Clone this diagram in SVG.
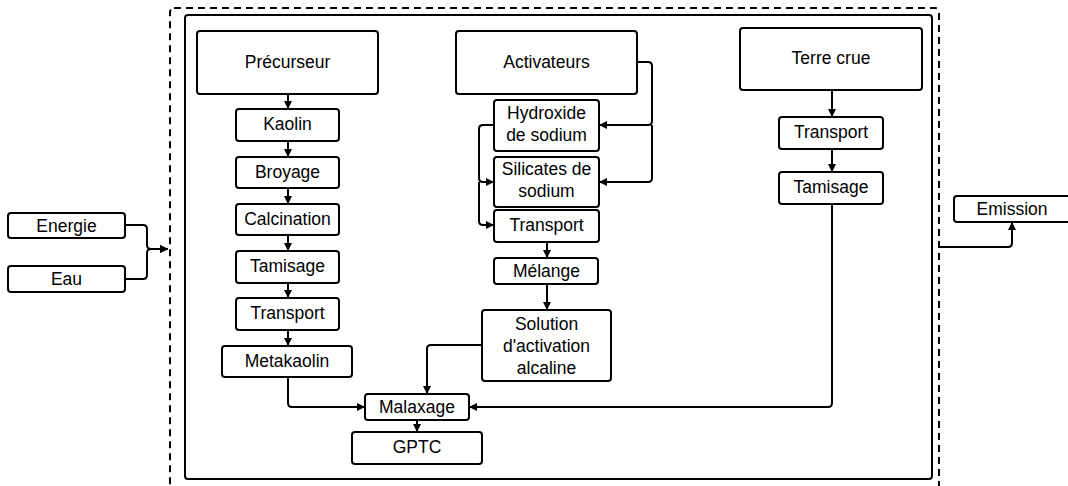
<svg xmlns="http://www.w3.org/2000/svg" width="1068" height="486" viewBox="0 0 1068 486">
<style>
.box{fill:#fff;stroke:#000;stroke-width:2}
.t{font-family:"Liberation Sans",Arial,sans-serif;font-size:17.5px;fill:#000;text-anchor:middle}
.c{fill:none;stroke:#000;stroke-width:2;stroke-linejoin:round}
.a{marker-end:url(#ah)}
</style>
<defs>
<marker id="ah" viewBox="0 0 10 10" refX="10" refY="5" markerWidth="8" markerHeight="9" orient="auto" markerUnits="userSpaceOnUse">
<path d="M0,0 L10,5 L0,10 z" fill="#000"/>
</marker>
</defs>
<rect id="boundary-outer" x="170" y="8" width="769" height="500" rx="4" fill="none" stroke="#000" stroke-width="2" stroke-dasharray="7,5"/>
<rect id="boundary-inner" x="185" y="15" width="747" height="464" rx="3" fill="none" stroke="#000" stroke-width="2"/>

<g id="precurseur"><rect class="box" x="197" y="31" width="181" height="63" rx="3"/><text class="t" x="287.5" y="67.5">Précurseur</text></g>
<g id="kaolin"><rect class="box" x="236" y="109" width="103" height="32" rx="3"/><text class="t" x="287.5" y="130">Kaolin</text></g>
<g id="broyage"><rect class="box" x="236" y="157" width="103" height="31" rx="3"/><text class="t" x="287.5" y="177.5">Broyage</text></g>
<g id="calcination"><rect class="box" x="236" y="204" width="103" height="31" rx="3"/><text class="t" x="287.5" y="224.5">Calcination</text></g>
<g id="tamisage1"><rect class="box" x="236" y="251" width="103" height="32" rx="3"/><text class="t" x="287.5" y="272">Tamisage</text></g>
<g id="transport1"><rect class="box" x="236" y="298" width="103" height="32" rx="3"/><text class="t" x="287.5" y="319">Transport</text></g>
<g id="metakaolin"><rect class="box" x="222" y="346" width="130" height="31" rx="3"/><text class="t" x="287" y="366.5">Metakaolin</text></g>

<g id="activateurs"><rect class="box" x="456" y="31" width="181" height="63" rx="3"/><text class="t" x="546.5" y="67.5">Activateurs</text></g>
<g id="hydroxide"><rect class="box" x="494" y="100" width="105" height="51" rx="3"/><text class="t" x="546.5" y="119">Hydroxide</text><text class="t" x="546.5" y="141">de sodium</text></g>
<g id="silicates"><rect class="box" x="494" y="157" width="105" height="50" rx="3"/><text class="t" x="546.5" y="175">Silicates de</text><text class="t" x="546.5" y="197">sodium</text></g>
<g id="transport2"><rect class="box" x="494" y="210" width="105" height="32" rx="3"/><text class="t" x="546.5" y="230.5">Transport</text></g>
<g id="melange"><rect class="box" x="494" y="258" width="104" height="26" rx="3"/><text class="t" x="546.5" y="276.5">Mélange</text></g>
<g id="solution"><rect class="box" x="482" y="310" width="129" height="71" rx="3"/><text class="t" x="546.5" y="329.5">Solution</text><text class="t" x="546.5" y="351.5">d'activation</text><text class="t" x="546.5" y="373.5">alcaline</text></g>

<g id="terre-crue"><rect class="box" x="740" y="28" width="182" height="62" rx="3"/><text class="t" x="831" y="64">Terre crue</text></g>
<g id="transport3"><rect class="box" x="779" y="117" width="104" height="32" rx="3"/><text class="t" x="831" y="138">Transport</text></g>
<g id="tamisage3"><rect class="box" x="779" y="172" width="104" height="32" rx="3"/><text class="t" x="831" y="193">Tamisage</text></g>

<g id="malaxage"><rect class="box" x="365" y="394" width="104" height="26" rx="3"/><text class="t" x="417" y="412.5">Malaxage</text></g>
<g id="gptc"><rect class="box" x="352" y="432" width="130" height="32" rx="3"/><text class="t" x="417" y="453">GPTC</text></g>

<g id="energie"><rect class="box" x="8" y="213" width="117" height="25" rx="3"/><text class="t" x="66.5" y="231.5">Energie</text></g>
<g id="eau"><rect class="box" x="8" y="266" width="117" height="26" rx="3"/><text class="t" x="66.5" y="285">Eau</text></g>
<g id="emission"><rect class="box" x="954" y="196" width="118" height="26" rx="3"/><text class="t" x="1012" y="215">Emission</text></g>

<g id="connectors">
<path class="c a" d="M288,94 L288,109"/>
<path class="c a" d="M288,141 L288,157"/>
<path class="c a" d="M288,188 L288,204"/>
<path class="c a" d="M288,235 L288,251"/>
<path class="c a" d="M288,283 L288,298"/>
<path class="c a" d="M288,330 L288,346"/>
<path class="c a" d="M288,377 L288,403 Q288,407 292,407 L365,407"/>
<path class="c a" d="M637,62 L648,62 Q652,62 652,66 L652,121 Q652,125 648,125 L599,125"/>
<path class="c a" d="M652,125 L652,178 Q652,182 648,182 L599,182"/>
<path class="c a" d="M494,125 L483,125 Q479,125 479,129 L479,178 Q479,182 483,182 L494,182"/>
<path class="c a" d="M479,182 L479,221 Q479,225 483,225 L494,225"/>
<path class="c a" d="M547,242 L547,258"/>
<path class="c a" d="M547,284 L547,310"/>
<path class="c a" d="M482,345 L431,345 Q427,345 427,349 L427,394"/>
<path class="c a" d="M832,90 L832,117"/>
<path class="c a" d="M832,149 L832,172"/>
<path class="c a" d="M832,204 L832,403 Q832,407 828,407 L469,407"/>
<path class="c a" d="M417,420 L417,432"/>
<path class="c a" d="M125,225 L143,225 Q147,225 147,229 L147,245 Q147,249 151,249 L168,249"/>
<path class="c a" d="M125,279 L143,279 Q147,279 147,275 L147,253 Q147,249 151,249 L168,249"/>
<path class="c a" d="M940,247 L1008,247 Q1012,247 1012,243 L1012,222"/>
</g>
</svg>
